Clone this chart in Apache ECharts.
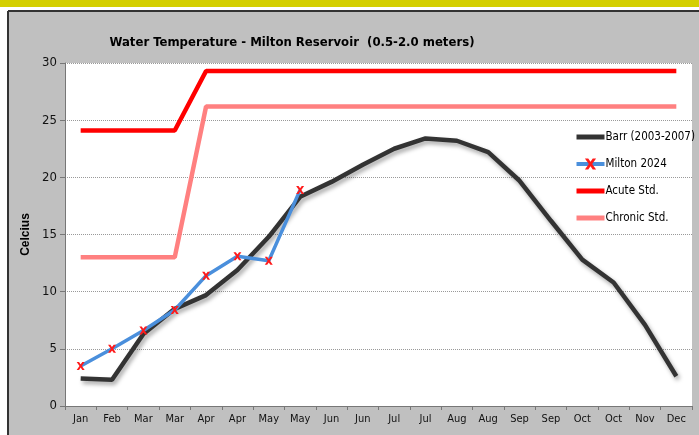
<!DOCTYPE html>
<html>
<head>
<meta charset="utf-8">
<script src="https://cdn.jsdelivr.net/npm/echarts@6/dist/echarts.min.js"></script>
<style>
  html, body { margin: 0; padding: 0; background: #fff; }
  #plot { width: 699px; height: 435px; }
</style>
</head>
<body>
<div id="plot"></div>
<script>
// month labels as they appear on the x axis (two readings per month)
var months = ['Jan', 'Feb', 'Mar', 'Mar', 'Apr', 'Apr', 'May', 'May', 'Jun', 'Jun',
              'Jul', 'Jul', 'Aug', 'Aug', 'Sep', 'Sep', 'Oct', 'Oct', 'Nov', 'Dec'];
var barr = [2.4, 2.3, 6.3, 8.5, 9.7, 11.9, 14.8, 18.3, 19.6, 21.1,
            22.5, 23.4, 23.2, 22.2, 19.7, 16.2, 12.8, 10.8, 7.1, 2.6];
var milton = [3.5, 5.0, 6.6, 8.4, 11.4, 13.1, 12.7, 18.9];
var acute = [24.1, 24.1, 24.1, 24.1, 29.3, 29.3, 29.3, 29.3, 29.3, 29.3,
             29.3, 29.3, 29.3, 29.3, 29.3, 29.3, 29.3, 29.3, 29.3, 29.3];
var chronic = [13.0, 13.0, 13.0, 13.0, 26.2, 26.2, 26.2, 26.2, 26.2, 26.2,
               26.2, 26.2, 26.2, 26.2, 26.2, 26.2, 26.2, 26.2, 26.2, 26.2];

var narrow = "'Liberation Sans Narrow', 'Arial Narrow', 'DejaVu Sans Condensed', sans-serif";
var starMark = 'path://M0,0 L3,0 L5,3 L7,0 L10,0 L6.5,5 L10,10 L7,10 L5,7 L3,10 L0,10 L3.5,5 Z';
var noMark = { color: 'rgba(0,0,0,0)', borderWidth: 0, opacity: 0 };

var plot = echarts.init(document.getElementById('plot'));
var option = {
  backgroundColor: '#ffffff',
  animation: false,
  graphic: [
    { type: 'rect', shape: { x: 0, y: 0, width: 699, height: 7 }, style: { fill: '#d4cf00' }, z: -10 },
    { type: 'rect', shape: { x: 8, y: 11, width: 691, height: 424 }, style: { fill: '#c0c0c0' }, z: -10 },
    { type: 'line', shape: { x1: 8, y1: 11, x2: 699, y2: 11 }, style: { stroke: '#333', lineWidth: 2 }, z: -9 },
    { type: 'line', shape: { x1: 8, y1: 11, x2: 8, y2: 435 }, style: { stroke: '#333', lineWidth: 2 }, z: -9 }
  ],
  title: {
    text: 'Water Temperature - Milton Reservoir  (0.5-2.0 meters)',
    left: 287,
    textAlign: 'center',
    top: 31,
    textStyle: { fontFamily: narrow, fontSize: 13, fontWeight: 'bold', color: '#000' }
  },
  legend: {
    orient: 'vertical',
    left: 569,
    top: 125,
    itemWidth: 28,
    itemHeight: 14,
    itemGap: 13,
    data: [
      { name: 'Barr (2003-2007)', itemStyle: noMark, lineStyle: { width: 5 } },
      { name: 'Milton 2024', lineStyle: { width: 4 } },
      { name: 'Acute Std.', itemStyle: noMark, lineStyle: { width: 5 } },
      { name: 'Chronic Std.', itemStyle: noMark, lineStyle: { width: 5 } }
    ],
    textStyle: { fontFamily: narrow, fontSize: 11.5, color: '#000', padding: [0, 0, 0, -4], height: 14, lineHeight: 14 }
  },
  grid: {
    left: 65, right: 7, top: 63, bottom: 29,
    show: true, backgroundColor: '#ffffff', borderWidth: 0
  },
  xAxis: {
    type: 'category',
    data: months,
    boundaryGap: true,
    axisLine: { lineStyle: { color: '#777', width: 1 } },
    axisTick: { show: true, length: 4, lineStyle: { color: '#777' } },
    axisLabel: { fontFamily: narrow, fontSize: 11, color: '#111', margin: 8, interval: 0 }
  },
  yAxis: {
    type: 'value',
    min: 0, max: 30, interval: 5,
    name: 'Celcius',
    nameLocation: 'middle',
    nameGap: 31,
    nameTextStyle: { fontFamily: 'Liberation Sans, Arial, sans-serif', fontSize: 12, fontWeight: 'bold', color: '#000' },
    axisLine: { show: true, lineStyle: { color: '#777', width: 1 } },
    axisTick: { show: true, length: 5, lineStyle: { color: '#777' } },
    axisLabel: { fontFamily: narrow, fontSize: 13, color: '#111', margin: 8 },
    splitLine: { show: true, lineStyle: { color: '#999', type: 'dotted', width: 1 } }
  },
  series: [
    {
      name: 'Barr (2003-2007)',
      type: 'line',
      data: barr,
      symbol: 'none',
      z: 3,
      itemStyle: { color: '#333333' },
      lineStyle: { color: '#333333', width: 4.5, shadowColor: 'rgba(0,0,0,0.35)', shadowBlur: 4, shadowOffsetX: 2, shadowOffsetY: 3 }
    },
    {
      name: 'Milton 2024',
      type: 'line',
      data: milton,
      symbol: starMark,
      symbolSize: 8,
      showSymbol: true,
      z: 4,
      itemStyle: { color: '#ff1a1a' },
      lineStyle: { color: '#4a8fdc', width: 3.5 }
    },
    {
      name: 'Acute Std.',
      type: 'line',
      data: acute,
      symbol: 'none',
      z: 2,
      itemStyle: { color: '#ff0000' },
      lineStyle: { color: '#ff0000', width: 4.5 }
    },
    {
      name: 'Chronic Std.',
      type: 'line',
      data: chronic,
      symbol: 'none',
      z: 2,
      itemStyle: { color: '#ff8080' },
      lineStyle: { color: '#ff8080', width: 4.5 }
    }
  ]
};
plot.setOption(option);
window.onresize = function () {
  plot.resize();
};
</script>
</body>
</html>
